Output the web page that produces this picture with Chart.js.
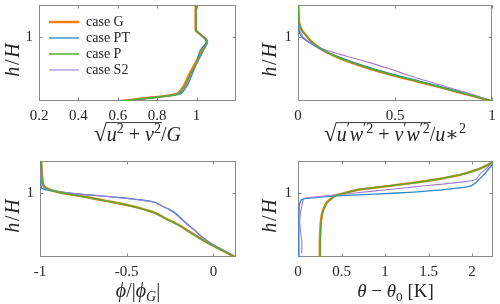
<!DOCTYPE html>
<html>
<head>
<meta charset="utf-8">
<script src="https://cdn.jsdelivr.net/npm/chart.js@4/dist/chart.umd.min.js"></script>
<style>
html,body{margin:0;padding:0;background:#fff;}
#wrap{position:relative;width:500px;height:304px;overflow:hidden;}
.p{position:absolute;width:250px;height:152px;}
canvas{display:block;}
</style>
</head>
<body>
<div id="wrap">
  <div class="p" style="left:0;top:0"><canvas id="c1" width="250" height="152"></canvas></div>
  <div class="p" style="left:250px;top:0"><canvas id="c2" width="250" height="152"></canvas></div>
  <div class="p" style="left:0;top:152px"><canvas id="c3" width="250" height="152"></canvas></div>
  <div class="p" style="left:250px;top:152px"><canvas id="c4" width="250" height="152"></canvas></div>
</div>
<script>
// ---------- data ----------
const caseNames = ['case G', 'case PT', 'case P', 'case S2'];

// panel 1: sqrt(u^2+v^2)/G
const h1 = [0, 0.05, 0.094, 0.18, 0.4, 0.6, 0.8, 0.93, 1.07, 1.11, 1.5];
const g1 = [0.62, 0.76, 0.88, 0.922, 0.96, 0.995, 1.03, 1.052, 1.007, 0.995, 0.995];
const pt1 = [0.63, 0.775, 0.895, 0.938, 0.975, 1.0, 1.02, 1.05, 1.008, 0.997, 0.997];
const p1 = [0.62, 0.765, 0.885, 0.927, 0.966, 1.0, 1.034, 1.054, 1.008, 0.997, 0.997];
const s21 = [0.655, 0.765, 0.878, 0.93, 0.97, 1.005, 1.037, 1.057, 1.01, 1.0, 1.0];

// panel 2: sqrt(u'w'^2+v'w'^2)/u*^2
const h2 = [0, 0.1, 0.2, 0.3, 0.4, 0.5, 0.6, 0.7, 0.8, 0.875, 0.95, 1.0, 1.05, 1.1, 1.2, 1.35, 1.5];
const g2 = [1.0, 0.875, 0.75, 0.62, 0.49, 0.375, 0.275, 0.19, 0.125, 0.09, 0.062, 0.048, 0.035, 0.022, 0.008, 0.003, 0.002];
const pt2 = [1.0, 0.882, 0.765, 0.64, 0.51, 0.395, 0.29, 0.2, 0.123, 0.078, 0.04, 0.02, 0.01, 0.005, 0.002, 0.001, 0.0];
const p2 = [1.0, 0.875, 0.752, 0.623, 0.493, 0.378, 0.278, 0.192, 0.127, 0.092, 0.063, 0.048, 0.034, 0.02, 0.007, 0.003, 0.002];
const s22 = [1.0, 0.9, 0.79, 0.678, 0.572, 0.475, 0.37, 0.25, 0.14, 0.085, 0.045, 0.027, 0.017, 0.01, 0.005, 0.003, 0.002];

// panel 3: phi/|phi_G|
const h3 = [0, 0.1, 0.2, 0.3, 0.4, 0.5, 0.6, 0.7, 0.8, 0.87, 0.93, 1.0, 1.05, 1.1, 1.2, 1.35, 1.5];
const g3 = [0.125, 0.055, -0.019, -0.083, -0.141, -0.2, -0.274, -0.348, -0.477, -0.605, -0.72, -0.87, -0.94, -0.975, -0.985, -0.99, -0.993];
const pt3 = [0.125, 0.06, -0.005, -0.06, -0.1, -0.144, -0.185, -0.226, -0.297, -0.36, -0.548, -0.837, -0.965, -0.994, -0.995, -0.995, -0.995];
const p3 = [0.122, 0.053, -0.02, -0.085, -0.143, -0.202, -0.276, -0.35, -0.48, -0.608, -0.723, -0.872, -0.941, -0.976, -0.986, -0.99, -0.993];
const s23 = [0.125, 0.058, -0.008, -0.062, -0.103, -0.147, -0.19, -0.232, -0.3, -0.37, -0.55, -0.83, -0.955, -0.982, -0.993, -1.0, -1.004];

// panel 4: theta - theta0 [K]
const h4 = [0, 0.06, 0.2, 0.4, 0.55, 0.7, 0.8, 0.86, 0.9, 0.92, 0.94, 0.97, 1.0, 1.05, 1.1, 1.15, 1.2, 1.28, 1.36, 1.44, 1.5];
const g4 = [0.25, 0.25, 0.25, 0.255, 0.262, 0.28, 0.31, 0.336, 0.37, 0.39, 0.41, 0.45, 0.54, 0.69, 0.98, 1.28, 1.53, 1.85, 2.05, 2.18, 2.25];
const pt4 = [0.01, 0.01, 0.01, 0.01, 0.01, 0.012, 0.015, 0.025, 0.05, 0.13, 0.3, 0.68, 1.14, 1.65, 1.955, 2.03, 2.07, 2.13, 2.18, 2.23, 2.26];
const p4 = [0.255, 0.255, 0.255, 0.26, 0.266, 0.284, 0.313, 0.34, 0.373, 0.393, 0.413, 0.453, 0.543, 0.693, 0.98, 1.28, 1.53, 1.85, 2.05, 2.18, 2.25];
const s24 = [null, 0.042, 0.045, 0.03, 0.02, 0.03, 0.045, 0.055, 0.062, 0.07, 0.21, 0.43, 0.65, 1.01, 1.37, 1.73, 2.02, 2.08, 2.145, 2.21, 2.26];

// ticks
const yTicks = [1];
const xTicks1 = [0.2, 0.4, 0.6, 0.8, 1];
const xTicks2 = [0, 0.5, 1];
const xTicks3 = [-1, -0.5, 0];
const xTicks4 = [0, 0.5, 1, 1.5, 2];

// ---------- style ----------
const SERIF = "'Liberation Serif', 'Times New Roman', 'DejaVu Serif', serif";
const TXT = '#262626';
const colors = ['#fa7d12', '#2f86c8', '#5aa832', '#a07fd0'];
const widths = [2.4, 1.3, 1.5, 1.1];
const orders = [3, 2, 0, 1];

function ds(i, hs, xs) {
  const pts = [];
  hs.forEach((h, k) => { if (xs[k] !== null) pts.push({x: xs[k], y: h}); });
  return {
    label: caseNames[i], data: pts,
    borderColor: colors[i], backgroundColor: colors[i],
    borderWidth: widths[i], pointRadius: 0, pointHoverRadius: 0,
    fill: false, cubicInterpolationMode: 'monotone', order: orders[i]
  };
}

function drawRich(ctx, parts, cx, baseY, size) {
  let total = 0;
  const items = parts.map(p => {
    const s = ((p.sup || p.sub) ? size * 0.7 : size) * (p.scale || 1);
    const font = (p.it ? 'italic ' : '') + s.toFixed(1) + 'px ' + SERIF;
    ctx.font = font;
    const m = ctx.measureText(p.t);
    const dy = p.sup ? -size * 0.42 : (p.sub ? size * 0.22 : 0);
    total += m.width;
    return {p, font, w: m.width, dy, asc: m.actualBoundingBoxAscent};
  });
  let x = cx - total / 2;
  ctx.fillStyle = TXT; ctx.textAlign = 'left'; ctx.textBaseline = 'alphabetic';
  let ov = null;
  items.forEach(it => {
    ctx.font = it.font;
    ctx.fillText(it.p.t, x, baseY + it.dy);
    if (it.p.rad) ov = {y: baseY - it.asc + 0.6, x0: x + it.w - 1, x1: x + it.w};
    if (it.p.over && ov) ov.x1 = x + it.w;
    x += it.w;
  });
  if (ov) {
    ctx.strokeStyle = TXT; ctx.lineWidth = 0.9;
    ctx.beginPath(); ctx.moveTo(ov.x0, ov.y); ctx.lineTo(ov.x1 + 1, ov.y); ctx.stroke();
  }
}

const yTitleParts = [ {t: 'h', it: true}, {t: '\u200A/\u200A'}, {t: 'H', it: true} ];

const framePlugin = {
  id: 'frame',
  afterLayout(chart, args, opts) {
    const lg = chart.legend;
    if (opts.legendAt && lg && lg.options.display) {
      const w = lg.width, h = lg.height;
      lg.left = opts.legendAt[0]; lg.top = opts.legendAt[1];
      lg.right = lg.left + w; lg.bottom = lg.top + h;
    }
  },
  beforeDatasetsDraw(chart, args, opts) {
    const {ctx, chartArea: a, scales} = chart;
    ctx.save();
    ctx.strokeStyle = '#8a8a8a'; ctx.lineWidth = 1;
    ctx.strokeRect(Math.round(a.left) + 0.5, Math.round(a.top) + 0.5,
                   Math.round(a.right - a.left) - 1, Math.round(a.bottom - a.top) - 1);
    const L = 3.5;
    ctx.beginPath();
    scales.x.ticks.forEach(t => {
      const x = Math.round(scales.x.getPixelForValue(t.value)) + 0.5;
      ctx.moveTo(x, a.bottom); ctx.lineTo(x, a.bottom - L);
      ctx.moveTo(x, a.top); ctx.lineTo(x, a.top + L);
    });
    scales.y.ticks.forEach(t => {
      const y = Math.round(scales.y.getPixelForValue(t.value)) + 0.5;
      ctx.moveTo(a.left, y); ctx.lineTo(a.left + L, y);
      ctx.moveTo(a.right, y); ctx.lineTo(a.right - L, y);
    });
    ctx.stroke();
    ctx.restore();
  },
  afterDraw(chart, args, opts) {
    const {ctx, chartArea: a} = chart;
    ctx.save();
    if (opts.xTitle) drawRich(ctx, opts.xTitle, (a.left + a.right) / 2, a.bottom + 40, opts.xTitleSize || 18);
    ctx.translate(opts.yTitleX, (a.top + a.bottom) / 2 + 7);
    ctx.rotate(-Math.PI / 2);
    drawRich(ctx, yTitleParts, 0, 0.33 * 20, 20);
    ctx.restore();
  }
};

function makeChart(id, cfg) {
  const datasets = [ds(0, cfg.h, cfg.g), ds(1, cfg.h, cfg.pt), ds(2, cfg.h, cfg.p), ds(3, cfg.h, cfg.s2)];
  return new Chart(document.getElementById(id), {
    type: 'line',
    data: { datasets },
    plugins: [framePlugin],
    options: {
      responsive: false, animation: false, indexAxis: 'y',
      devicePixelRatio: 1,
      layout: { padding: cfg.pad },
      events: [],
      plugins: {
        tooltip: { enabled: false },
        legend: cfg.legend ? {
          display: true, position: 'chartArea', align: 'start',
          labels: { usePointStyle: true, pointStyle: 'line', pointStyleWidth: 30,
                    font: { family: SERIF, size: 14 }, color: TXT, padding: 2,
                    sort: (a, b) => a.datasetIndex - b.datasetIndex }
        } : { display: false },
        frame: { xTitle: cfg.xTitle, xTitleSize: cfg.xTitleSize, legendAt: cfg.legendAt, yTitleX: cfg.yTitleX }
      },
      scales: {
        x: {
          type: 'linear', min: cfg.xmin, max: cfg.xmax,
          grid: { display: false, drawTicks: false }, border: { display: false },
          ticks: { font: { family: SERIF, size: 15 }, color: TXT, padding: 6, maxRotation: 0,
                   callback: v => String(v) },
          afterBuildTicks: s => { s.ticks = cfg.xt.map(v => ({ value: v })); },
          afterFit: s => { s.height = cfg.xH; s.paddingLeft = 0; s.paddingRight = 0; }
        },
        y: {
          type: 'linear', min: 0, max: 1.5,
          grid: { display: false, drawTicks: false }, border: { display: false },
          ticks: { font: { family: SERIF, size: 15 }, color: TXT, padding: 6,
                   callback: v => String(v) },
          afterBuildTicks: s => { s.ticks = yTicks.map(v => ({ value: v })); },
          afterFit: s => { s.width = cfg.yW; s.paddingTop = 0; s.paddingBottom = 0; }
        }
      }
    }
  });
}

makeChart('c1', {
  h: h1, g: g1, pt: pt1, p: p1, s2: s21, xmin: 0.2, xmax: 1.2, xt: xTicks1,
  pad: { left: 0, right: 14, top: 5, bottom: 0 }, yW: 39, xH: 51, yTitleX: 12,
  legend: true, legendAt: [47, 13],
  xTitleSize: 20,
  xTitle: [ {t: '\u221A', rad: true, scale: 1.15}, {t: 'u', it: true, over: true}, {t: '2', sup: true, over: true},
            {t: ' + ', over: true}, {t: 'v', it: true, over: true}, {t: '2', sup: true, over: true},
            {t: '/'}, {t: 'G', it: true} ]
});
makeChart('c2', {
  h: h2, g: g2, pt: pt2, p: p2, s2: s22, xmin: 0, xmax: 1, xt: xTicks2,
  pad: { left: 0, right: 8, top: 5, bottom: 0 }, yW: 48, xH: 51, yTitleX: 19,
  xTitleSize: 20,
  xTitle: [ {t: '\u221A', rad: true, scale: 1.15}, {t: 'u', it: true, over: true}, {t: '\u2032', sup: true, over: true},
            {t: 'w', it: true, over: true}, {t: '\u20322', sup: true, over: true},
            {t: ' + ', over: true}, {t: 'v', it: true, over: true}, {t: '\u2032', sup: true, over: true},
            {t: 'w', it: true, over: true}, {t: '\u20322', sup: true, over: true},
            {t: '/'}, {t: 'u', it: true}, {t: '\u2217'}, {t: '2', sup: true} ]
});
makeChart('c3', {
  h: h3, g: g3, pt: pt3, p: p3, s2: s23, xmin: -1, xmax: 0.13, xt: xTicks3,
  pad: { left: 0, right: 14, top: 9, bottom: 0 }, yW: 40, xH: 47, yTitleX: 12,
  xTitleSize: 20,
  xTitle: [ {t: '\u03D5', it: true}, {t: '/|'}, {t: '\u03D5', it: true}, {t: 'G', it: true, sub: true}, {t: '|'} ]
});
makeChart('c4', {
  h: h4, g: g4, pt: pt4, p: p4, s2: s24, xmin: 0, xmax: 2.24, xt: xTicks4,
  pad: { left: 0, right: 7, top: 9, bottom: 0 }, yW: 48, xH: 47, yTitleX: 19,
  xTitleSize: 19,
  xTitle: [ {t: '\u03B8', it: true}, {t: ' \u2212 '}, {t: '\u03B8', it: true}, {t: '0', sub: true}, {t: ' [K]'} ]
});
</script>
</body>
</html>
